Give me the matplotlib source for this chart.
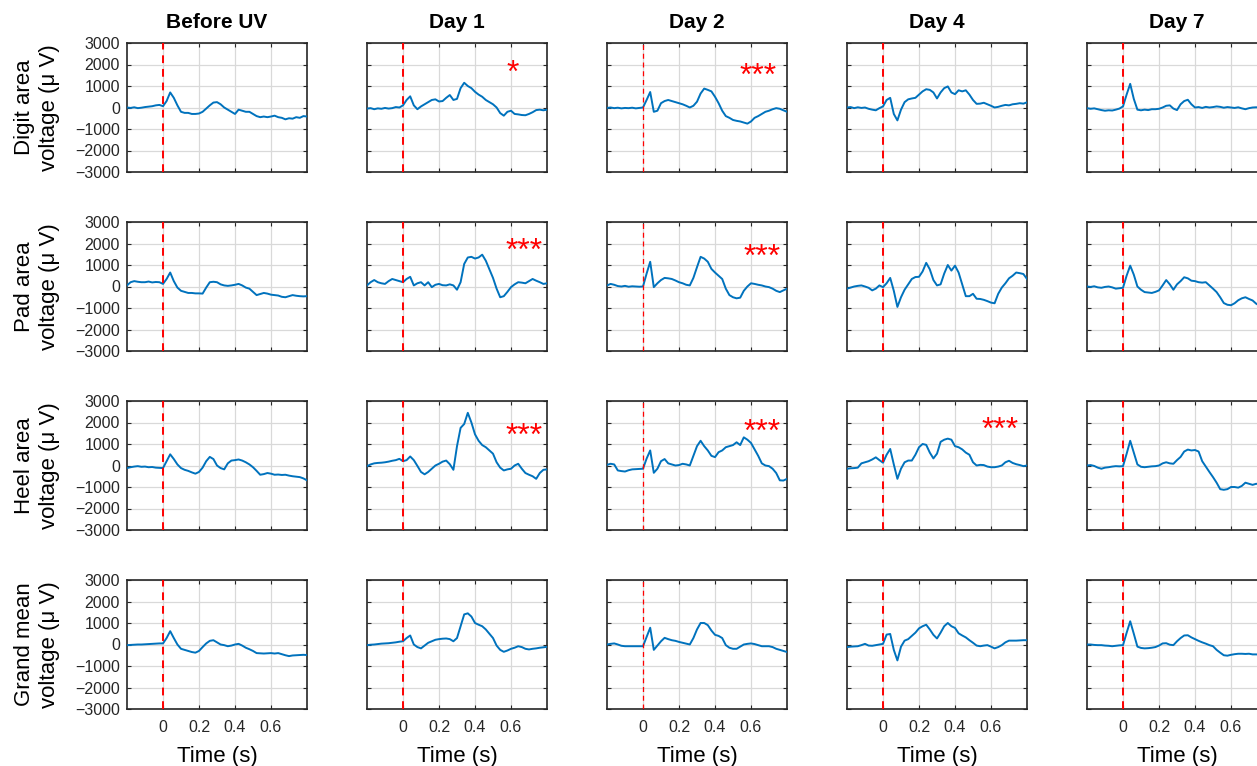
import numpy as np
import matplotlib.pyplot as plt

plt.rcParams['font.family'] = ['Liberation Sans', 'DejaVu Sans']

# time axis (s), one sample every 20 ms
t = np.round(np.arange(-0.2, 0.801, 0.02), 2)

conditions = ['Before UV', 'Day 1', 'Day 2', 'Day 4', 'Day 7']
areas = ['Digit area', 'Pad area', 'Heel area', 'Grand mean']

# ---- digit area (uV)
digit_before = [0, -20, 10, -30, -10, 20, 40, 60, 100, 120,
                60, 300, 700, 450, 100, -200, -250, -250, -300, -300,
                -280, -200, -50, 100, 230, 250, 150, 0, -100, -200,
                -300, -100, -150, -200, -200, -300, -400, -450, -420, -450,
                -420, -380, -450, -480, -550, -500, -520, -450, -480, -400, -420]
digit_day1 = [-50, -30, -80, -40, -60, -20, -50, -30, 20, 0,
              100, 350, 520, 100, -80, 50, 150, 250, 350, 380,
              280, 300, 450, 580, 350, 400, 900, 1150, 1000, 900,
              730, 600, 500, 350, 250, 150, 0, -260, -380, -200,
              -150, -300, -320, -350, -360, -300, -220, -120, -100, -130, -100]
digit_day2 = [-20, 0, -30, -10, -40, -20, -30, -10, -40, -20,
              0, 350, 720, -200, -150, 200, 300, 350, 300, 250,
              200, 150, 80, 0, 80, 270, 650, 880, 820, 750,
              500, 200, -150, -400, -480, -580, -620, -650, -700, -750,
              -650, -480, -400, -300, -200, -150, -80, -30, -60, -130, -200]
digit_day4 = [0, 20, -30, 10, -20, 0, -60, -100, -130, -30,
              50, 350, 450, -300, -600, -100, 250, 380, 420, 450,
              600, 750, 850, 820, 700, 420, 700, 900, 980, 700,
              620, 800, 750, 800, 600, 350, 170, 180, 220, 150,
              80, 0, 30, 80, 120, 100, 150, 170, 200, 180, 240]
digit_day7 = [-30, -60, -40, -80, -120, -150, -130, -140, -100, -50,
              50, 600, 1100, 400, -100, -130, -100, -120, -80, -80,
              -60, 0, 80, 100, -50, -120, 150, 300, 360, 150,
              0, 20, -20, 30, 0, 20, 50, 30, -10, 20,
              0, -20, 10, -40, -80, -30, 0, 10, 0, -20, 0]

# ---- pad area (uV)
pad_before = [50, 200, 250, 220, 200, 200, 230, 190, 210, 200,
              120, 350, 650, 250, -50, -200, -250, -300, -300, -320,
              -320, -330, -50, 200, 220, 200, 100, 50, 30, 50,
              80, 120, 50, -50, -100, -250, -400, -350, -300, -330,
              -380, -400, -420, -480, -500, -450, -400, -430, -450, -460, -450]
pad_day1 = [50, 200, 300, 200, 150, 120, 250, 350, 300, 250,
            200, 350, 450, 50, 150, 200, 50, 200, -30, 80,
            120, 60, 50, 100, 50, -150, 200, 1050, 1350, 1380,
            1300, 1350, 1480, 1200, 800, 400, -100, -500, -450, -250,
            -30, 100, 200, 180, 150, 250, 350, 270, 200, 120, 150]
pad_day2 = [50, 120, 80, 20, 0, 30, -10, 10, 0, -10,
            0, 600, 1150, -30, 150, 300, 400, 380, 350, 280,
            200, 150, 80, 50, 400, 900, 1380, 1300, 1150, 820,
            650, 500, 350, -100, -400, -500, -550, -520, -200, 0,
            150, 120, 80, 50, 0, -30, -100, -200, -260, -180, -100]
pad_day4 = [-100, -50, 0, 30, 50, 0, -60, -180, -100, 50,
            -30, 150, 400, -200, -950, -500, -150, 100, 350, 440,
            450, 700, 1100, 800, 300, 50, 100, 600, 1000, 740,
            970, 650, 100, -450, -450, -340, -570, -580, -620, -680,
            -750, -780, -340, -50, 150, 380, 500, 650, 620, 580, 350]
pad_day7 = [0, -20, 10, -40, -60, -20, 0, -40, -100, -80,
            -60, 500, 970, 550, 0, -150, -260, -280, -300, -250,
            -180, 50, 300, 100, -150, 100, 250, 430, 380, 270,
            250, 200, 180, 200, 50, -100, -260, -500, -770, -850,
            -870, -780, -640, -550, -500, -580, -650, -800, -900, -900, -920]

# ---- heel area (uV)
heel_before = [-120, -80, -50, -30, -60, -50, -80, -70, -100, -110,
               -120, 200, 520, 300, 50, -120, -200, -250, -320, -380,
               -300, -100, 200, 400, 300, 0, -120, -180, 100, 230,
               250, 280, 230, 150, 50, -80, -250, -430, -400, -350,
               -380, -430, -420, -440, -430, -470, -500, -520, -540, -600, -690]
heel_day1 = [-30, 50, 100, 120, 130, 150, 180, 220, 250, 310,
             200, 250, 420, 250, -20, -300, -410, -300, -150, 0,
             80, 180, 230, 60, -200, 900, 1750, 1930, 2450, 2000,
             1450, 1150, 950, 850, 700, 550, 150, -100, -230, -180,
             -150, 0, 80, -150, -350, -430, -500, -620, -350, -200, -180]
heel_day2 = [30, 80, 50, -230, -260, -280, -220, -180, -170, -160,
             -150, 320, 700, -340, -150, 200, 300, 100, 50, 0,
             20, 80, 50, 0, 450, 900, 1150, 900, 700, 450,
             390, 620, 700, 850, 900, 950, 1080, 950, 1310, 1200,
             1050, 750, 450, 100, 0, -30, -150, -350, -690, -700, -620]
heel_day4 = [-150, -130, -120, -100, 100, 150, 200, 280, 380, 250,
             130, 500, 770, 50, -620, -150, 150, 230, 230, 500,
             850, 1000, 960, 600, 330, 550, 1100, 1200, 1250, 1200,
             900, 850, 750, 600, 500, 150, 0, 30, 20, -50,
             -80, -80, -50, 0, 150, 220, 120, 60, 20, -30, 0]
heel_day7 = [0, 20, -20, -100, -150, -100, -80, -50, -30, -40,
             -30, 540, 1150, 600, 50, -60, -80, -60, -40, -30,
             0, 100, 150, 100, 80, 250, 400, 650, 740, 700,
             720, 650, 200, -50, -300, -540, -800, -1100, -1130, -1100,
             -1000, -1000, -1030, -950, -800, -850, -900, -850, -880, -900, -880]

# ---- grand mean (uV)
gm_before = [-30, -20, -10, 0, 0, 10, 20, 30, 40, 50,
             50, 300, 620, 300, 0, -200, -250, -300, -350, -380,
             -300, -120, 50, 170, 200, 100, 0, -30, -80, -50,
             0, 30, -50, -150, -220, -300, -400, -410, -420, -410,
             -400, -420, -400, -450, -500, -540, -510, -500, -490, -480, -490]
gm_day1 = [-30, -10, 0, 20, 40, 50, 60, 80, 100, 130,
           150, 300, 420, 0, -120, -180, -50, 80, 150, 220,
           250, 270, 280, 250, 150, 300, 850, 1400, 1450, 1300,
           1000, 920, 850, 700, 500, 300, -50, -250, -340, -280,
           -200, -150, -80, -120, -200, -230, -200, -180, -150, -130, -110]
gm_day2 = [0, 30, 50, 0, -60, -80, -80, -80, -80, -80,
           -80, 350, 780, -250, -50, 150, 310, 250, 200, 170,
           120, 80, 40, 0, 300, 700, 1000, 1000, 900, 650,
           450, 400, 300, -30, -150, -200, -200, -100, 0, 30,
           50, 20, -30, -80, -80, -80, -120, -200, -250, -300, -350]
gm_day4 = [-120, -100, -90, -80, -30, 30, -50, -60, -30, 0,
           30, 460, 490, -250, -740, -100, 180, 250, 400, 550,
           750, 850, 920, 700, 450, 280, 550, 850, 1000, 850,
           770, 520, 420, 330, 200, 80, -50, -80, -50, -30,
           -100, -180, -120, -30, 100, 180, 180, 180, 190, 200, 200]
gm_day7 = [0, 0, -20, -30, -30, -50, -60, -80, -60, -40,
           -30, 540, 1080, 500, -100, -160, -180, -170, -150, -120,
           -50, 50, 60, -10, -30, 150, 300, 420, 430, 330,
           250, 170, 100, 40, -30, -80, -250, -380, -500, -520,
           -480, -450, -430, -430, -440, -430, -460, -460, -470, -460, -470]

signals = [
    [digit_before, digit_day1, digit_day2, digit_day4, digit_day7],
    [pad_before, pad_day1, pad_day2, pad_day4, pad_day7],
    [heel_before, heel_day1, heel_day2, heel_day4, heel_day7],
    [gm_before, gm_day1, gm_day2, gm_day4, gm_day7],
]

# significance marks: (row, col) -> (text, time, voltage)
stars = {
    (0, 1): ('*', 0.61, 1800),
    (0, 2): ('***', 0.64, 1650),
    (1, 1): ('***', 0.67, 1850),
    (1, 2): ('***', 0.66, 1600),
    (2, 1): ('***', 0.67, 1560),
    (2, 2): ('***', 0.66, 1750),
    (2, 3): ('***', 0.65, 1880),
}

W, H = 1257, 766
fig = plt.figure(figsize=(W / 100, H / 100), dpi=100)

col_left = [127, 367, 607, 847, 1087]
row_top = [43, 222, 401, 580]
ax_w, ax_h = 180, 129

blue = '#0072BD'
for r in range(4):
    for c in range(5):
        ax = fig.add_axes([col_left[c] / W, 1 - (row_top[r] + ax_h) / H,
                           ax_w / W, ax_h / H])
        ax.plot(t, signals[r][c], color=blue, lw=1.4, zorder=3)
        lw_red = 0.9 if c == 2 else 1.4
        ax.axvline(0, color='red', ls=(0, (4, 3)), lw=lw_red, zorder=4)
        ax.set_xlim(-0.2, 0.8)
        ax.set_ylim(-3000, 3000)
        ax.set_xticks([0, 0.2, 0.4, 0.6])
        ax.set_yticks(range(-3000, 3001, 1000))
        ax.grid(True, color='#d9d9d9', lw=0.9, zorder=0)
        ax.tick_params(direction='in', length=3, width=0.8, top=True, right=True,
                       labelsize=11.5, colors='#262626')
        ax.tick_params(axis='x', pad=8)
        ax.tick_params(axis='y', pad=5)
        for s in ax.spines.values():
            s.set_color('#262626')
            s.set_linewidth(1.2)
        if r == 3:
            ax.set_xticklabels(['0', '0.2', '0.4', '0.6'])
            ax.set_xlabel('Time (s)', fontsize=16, labelpad=8)
        else:
            ax.set_xticklabels([])
        if c == 0:
            ax.set_ylabel(areas[r] + '\nvoltage (\u03bc V)', fontsize=16,
                          labelpad=11, linespacing=1.25)
        else:
            ax.set_yticklabels([])
        if r == 0:
            ax.set_title(conditions[c], fontsize=15, fontweight='bold', pad=11)
        if (r, c) in stars:
            txt, sx, sy = stars[(r, c)]
            ax.text(sx, sy - 250, txt, color='red', fontsize=23, ha='center',
                    va='center', zorder=5)

fig.savefig('out.png', dpi=100)
